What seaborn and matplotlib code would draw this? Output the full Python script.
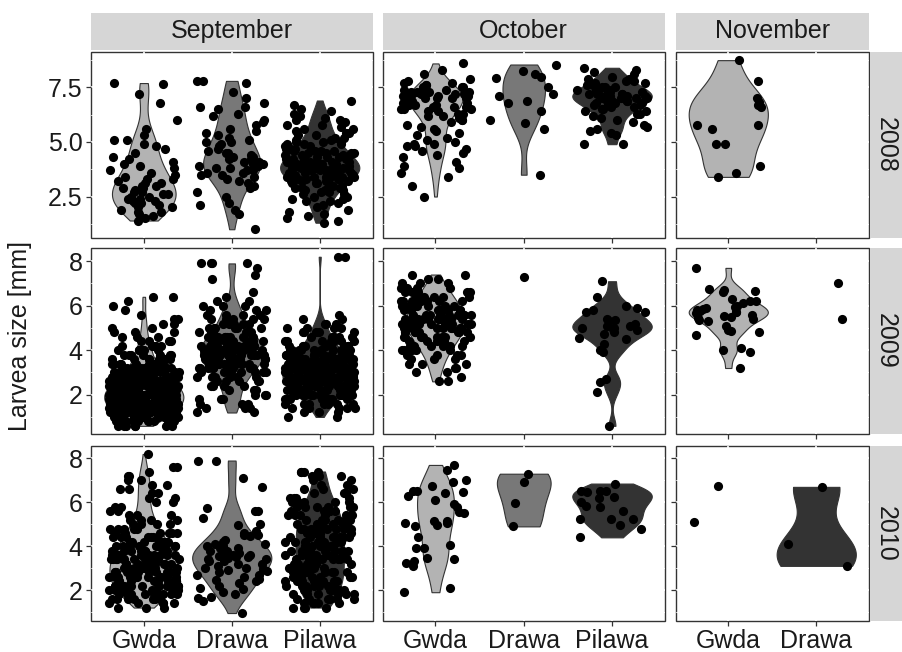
import numpy as np
import pandas as pd
import matplotlib
matplotlib.use("Agg")
import matplotlib.pyplot as plt
from matplotlib.patches import Rectangle
from matplotlib.ticker import MultipleLocator
import seaborn as sns


# larvae sizes [mm]
# 2008
sep08_gwda = [7.7, 7.65, 7.2, 6.8, 6.0, 5.6, 5.3, 5.1, 5.1, 4.9, 4.8, 4.7, 4.5, 4.3, 4.2, 4.1, 4.0, 3.9,
              3.8, 3.7, 3.6, 3.5, 3.4, 3.3, 3.3, 3.2, 3.1, 3.1, 3.0, 3.0, 2.9, 2.9, 2.8, 2.7, 2.7, 2.6,
              2.6, 2.5, 2.5, 2.4, 2.4, 2.3, 2.3, 2.2, 2.2, 2.1, 2.0, 2.0, 1.9, 1.8, 1.8, 1.7, 1.6, 1.5, 1.4]
sep08_drawa = [7.8, 7.8, 7.7, 7.3, 7.0, 6.8, 6.6, 6.6, 6.5, 6.3, 6.2, 6.0, 5.9, 5.8, 5.6, 5.5, 5.4, 5.3,
               5.2, 5.1, 5.0, 5.0, 4.9, 4.8, 4.7, 4.6, 4.5, 4.5, 4.4, 4.3, 4.3, 4.2, 4.2, 4.1, 4.1, 4.0,
               4.0, 3.9, 3.9, 3.8, 3.8, 3.7, 3.7, 3.6, 3.6, 3.5, 3.5, 3.4, 3.3, 3.2, 3.1, 3.0, 2.9, 2.7,
               2.5, 2.2, 2.1, 1.9, 1.7, 1.0]
sep08_pilawa = [6.9, 6.7, 6.5, 6.4, 6.3, 6.2, 6.1, 6.0, 6.0, 5.9, 5.8, 5.8, 5.7, 5.6, 5.6, 5.5, 5.4, 5.4,
                5.3, 5.3, 5.2, 5.2, 5.1, 5.1, 5.0, 5.0, 5.0, 4.9, 4.9, 4.9, 4.8, 4.8, 4.8, 4.7, 4.7, 4.7,
                4.6, 4.6, 4.6, 4.6, 4.5, 4.5, 4.5, 4.5, 4.4, 4.4, 4.4, 4.4, 4.3, 4.3, 4.3, 4.3, 4.2, 4.2,
                4.2, 4.2, 4.2, 4.1, 4.1, 4.1, 4.1, 4.1, 4.0, 4.0, 4.0, 4.0, 4.0, 4.0, 3.9, 3.9, 3.9, 3.9,
                3.9, 3.9, 3.8, 3.8, 3.8, 3.8, 3.8, 3.8, 3.7, 3.7, 3.7, 3.7, 3.7, 3.7, 3.6, 3.6, 3.6, 3.6,
                3.6, 3.6, 3.5, 3.5, 3.5, 3.5, 3.5, 3.4, 3.4, 3.4, 3.4, 3.4, 3.3, 3.3, 3.3, 3.3, 3.2, 3.2,
                3.2, 3.2, 3.1, 3.1, 3.1, 3.0, 3.0, 3.0, 2.9, 2.9, 2.9, 2.8, 2.8, 2.8, 2.7, 2.7, 2.6, 2.6,
                2.5, 2.5, 2.4, 2.4, 2.3, 2.3, 2.2, 2.1, 2.0, 1.9, 1.8, 1.7, 1.6, 1.5, 1.4, 1.3]
oct08_gwda = [8.6, 8.3, 8.1, 7.9, 7.8, 7.7, 7.7, 7.6, 7.6, 7.5, 7.5, 7.5, 7.4, 7.4, 7.4, 7.3, 7.3, 7.3,
              7.3, 7.2, 7.2, 7.2, 7.2, 7.1, 7.1, 7.1, 7.1, 7.0, 7.0, 7.0, 7.0, 6.9, 6.9, 6.9, 6.9, 6.8,
              6.8, 6.8, 6.8, 6.7, 6.7, 6.7, 6.6, 6.6, 6.6, 6.5, 6.5, 6.5, 6.4, 6.4, 6.3, 6.3, 6.2, 6.2,
              6.1, 6.0, 6.0, 5.9, 5.8, 5.7, 5.6, 5.5, 5.4, 5.3, 5.2, 5.1, 5.0, 4.9, 4.9, 4.8, 4.8, 4.7,
              4.6, 4.5, 4.4, 4.3, 4.1, 3.9, 3.8, 3.6, 3.4, 3.0, 2.5]
oct08_drawa = [8.55, 8.26, 8.1, 8.0, 7.95, 7.5, 7.2, 7.1, 6.9, 6.8, 6.42, 6.0, 5.85, 5.6, 3.5]
oct08_pilawa = [8.4, 8.3, 8.2, 8.1, 8.0, 7.9, 7.9, 7.8, 7.8, 7.7, 7.7, 7.6, 7.6, 7.5, 7.5, 7.5, 7.4, 7.4,
                7.4, 7.3, 7.3, 7.3, 7.3, 7.2, 7.2, 7.2, 7.2, 7.1, 7.1, 7.1, 7.1, 7.0, 7.0, 7.0, 7.0, 6.9,
                6.9, 6.9, 6.9, 6.8, 6.8, 6.8, 6.7, 6.7, 6.7, 6.6, 6.6, 6.5, 6.5, 6.4, 6.4, 6.3, 6.3, 6.2,
                6.1, 6.0, 5.9, 5.8, 5.7, 5.6, 5.5, 5.4, 5.3, 4.9, 4.9]
nov08_gwda = [8.75, 7.8, 7.0, 6.85, 6.7, 6.6, 5.8, 5.8, 5.6, 4.9, 4.9, 3.9, 3.6, 3.4]

# 2009 (dense groups as size / number of larvae)
sep09_gwda_mm = [0.6, 0.8, 1.0, 1.2, 1.4, 1.6, 1.8, 2.0, 2.2, 2.4, 2.6, 2.8, 3.0, 3.2, 3.4, 3.6, 3.8,
                 4.0, 4.2, 4.4, 4.6, 4.8, 5.0, 5.2, 5.4, 5.6, 5.8, 6.0, 6.2, 6.4]
sep09_gwda_n = [7, 12, 18, 24, 28, 30, 32, 32, 30, 27, 24, 20, 16, 13, 10, 8, 7, 6, 5, 4, 3, 3, 2, 2,
                2, 1, 1, 1, 1, 2]
sep09_drawa_mm = [1.2, 1.4, 1.6, 1.8, 2.0, 2.2, 2.4, 2.6, 2.8, 3.0, 3.2, 3.4, 3.6, 3.8, 4.0, 4.2, 4.4,
                  4.6, 4.8, 5.0, 5.2, 5.4, 5.6, 5.8, 6.0, 6.2, 6.4, 6.6, 7.2, 7.4, 7.7, 7.9]
sep09_drawa_n = [2, 3, 3, 3, 3, 3, 4, 5, 6, 7, 9, 11, 12, 12, 12, 12, 11, 9, 7, 6, 5, 5, 4, 3, 3, 2,
                 1, 1, 1, 1, 1, 4]
sep09_pilawa_mm = [1.0, 1.2, 1.4, 1.6, 1.8, 2.0, 2.2, 2.4, 2.6, 2.8, 3.0, 3.2, 3.4, 3.6, 3.8, 4.0, 4.2,
                   4.4, 4.6, 4.8, 5.0, 5.2, 5.4, 5.6, 8.2]
sep09_pilawa_n = [2, 3, 5, 7, 9, 12, 15, 18, 20, 20, 20, 19, 17, 15, 13, 11, 9, 7, 6, 5, 4, 3, 2, 1, 2]
oct09_gwda_mm = [2.6, 2.8, 3.0, 3.2, 3.4, 3.6, 3.8, 4.0, 4.2, 4.4, 4.6, 4.8, 5.0, 5.2, 5.4, 5.6, 5.8,
                 6.0, 6.2, 6.4, 6.6, 6.8, 7.0, 7.2, 7.4]
oct09_gwda_n = [2, 1, 2, 2, 3, 3, 4, 5, 6, 7, 8, 9, 10, 10, 10, 10, 9, 8, 7, 6, 5, 4, 3, 2, 2]
oct09_drawa = [7.3]
oct09_pilawa = [7.1, 6.4, 6.0, 5.9, 5.8, 5.7, 5.7, 5.4, 5.35, 5.3, 5.2, 5.1, 5.1, 5.0, 5.0, 4.95, 4.9,
                4.8, 4.75, 4.55, 4.5, 4.3, 4.0, 3.9, 2.7, 2.55, 2.1, 0.6]
nov09_gwda = [7.7, 6.75, 6.7, 6.65, 6.6, 6.3, 6.2, 6.2, 6.1, 6.0, 5.95, 5.9, 5.85, 5.8, 5.75, 5.7, 5.7,
              5.65, 5.6, 5.55, 5.5, 5.45, 5.4, 5.35, 5.3, 5.1, 4.9, 4.85, 4.8, 4.7, 4.1, 4.0, 3.9, 3.2]
nov09_drawa = [7.0, 5.4]

# 2010
sep10_gwda_mm = [1.2, 1.4, 1.6, 1.8, 2.0, 2.2, 2.4, 2.6, 2.8, 3.0, 3.2, 3.4, 3.6, 3.8, 4.0, 4.2, 4.4,
                 4.6, 4.8, 5.0, 5.2, 5.4, 5.6, 5.8, 6.0, 6.2, 6.4, 6.6, 6.8, 7.0, 7.2, 7.4, 7.6, 8.2]
sep10_gwda_n = [3, 5, 7, 9, 10, 11, 11, 12, 12, 12, 12, 11, 11, 10, 9, 8, 7, 6, 5, 4, 4, 3, 2, 2, 2,
                2, 2, 2, 2, 2, 2, 1, 2, 1]
sep10_drawa = [7.9, 7.9, 7.1, 6.7, 5.75, 5.6, 5.6, 5.3, 5.0, 4.95, 4.7, 4.6, 4.5, 4.5, 4.45, 4.3, 4.2,
               4.1, 4.1, 4.0, 4.0, 3.9, 3.9, 3.8, 3.8, 3.7, 3.7, 3.6, 3.6, 3.55, 3.5, 3.5, 3.45, 3.4,
               3.4, 3.3, 3.3, 3.2, 3.2, 3.1, 3.0, 3.0, 2.95, 2.9, 2.85, 2.8, 2.7, 2.7, 2.6, 2.5, 2.45,
               2.4, 2.3, 2.2, 2.1, 2.05, 1.9, 1.8, 1.7, 1.65, 1.5, 0.95]
sep10_pilawa_mm = [1.2, 1.4, 1.6, 1.8, 2.0, 2.2, 2.4, 2.6, 2.8, 3.0, 3.2, 3.4, 3.6, 3.8, 4.0, 4.2, 4.4,
                   4.6, 4.8, 5.0, 5.2, 5.4, 5.6, 5.8, 6.0, 6.2, 6.4, 6.6, 6.8, 7.0, 7.2, 7.4]
sep10_pilawa_n = [4, 5, 6, 6, 7, 7, 8, 8, 8, 8, 8, 8, 8, 8, 8, 8, 8, 8, 8, 8, 7, 7, 7, 6, 5, 4, 3, 3,
                  2, 2, 3, 4]
oct10_gwda = [7.7, 7.45, 7.0, 6.9, 6.75, 6.5, 6.5, 6.45, 6.4, 6.3, 6.1, 5.9, 5.8, 5.55, 5.5, 5.15, 5.15,
              5.05, 5.05, 4.95, 4.9, 4.4, 4.05, 3.9, 3.9, 3.45, 3.4, 3.3, 3.25, 3.1, 2.1, 1.9]
oct10_drawa = [7.3, 6.9, 5.95, 4.9]
oct10_pilawa = [6.85, 6.5, 6.5, 6.5, 6.45, 6.25, 6.2, 6.0, 5.85, 5.8, 5.6, 5.25, 5.25, 5.25, 4.95, 4.8, 4.4]
nov10_gwda = [6.75, 5.1]
nov10_drawa = [6.7, 4.1, 3.1]

years = [2008, 2009, 2010]
months = ["September", "October", "November"]
rivers = {"September": ["Gwda", "Drawa", "Pilawa"],
          "October": ["Gwda", "Drawa", "Pilawa"],
          "November": ["Gwda", "Drawa"]}


def expand(mm, n):
    return list(np.repeat(mm, n))


panels = {
    (2008, "September"): {"Gwda": sep08_gwda, "Drawa": sep08_drawa, "Pilawa": sep08_pilawa},
    (2008, "October"): {"Gwda": oct08_gwda, "Drawa": oct08_drawa, "Pilawa": oct08_pilawa},
    (2008, "November"): {"Gwda": nov08_gwda},
    (2009, "September"): {"Gwda": expand(sep09_gwda_mm, sep09_gwda_n),
                          "Drawa": expand(sep09_drawa_mm, sep09_drawa_n),
                          "Pilawa": expand(sep09_pilawa_mm, sep09_pilawa_n)},
    (2009, "October"): {"Gwda": expand(oct09_gwda_mm, oct09_gwda_n), "Drawa": oct09_drawa,
                        "Pilawa": oct09_pilawa},
    (2009, "November"): {"Gwda": nov09_gwda, "Drawa": nov09_drawa},
    (2010, "September"): {"Gwda": expand(sep10_gwda_mm, sep10_gwda_n), "Drawa": sep10_drawa,
                          "Pilawa": expand(sep10_pilawa_mm, sep10_pilawa_n)},
    (2010, "October"): {"Gwda": oct10_gwda, "Drawa": oct10_drawa, "Pilawa": oct10_pilawa},
    (2010, "November"): {"Gwda": nov10_gwda, "Drawa": nov10_drawa},
}

recs = []
for (year, month), groups in panels.items():
    for river, vals in groups.items():
        for v in vals:
            recs.append((year, month, river, float(v)))
df = pd.DataFrame(recs, columns=["year", "month", "river", "size"])

fills = {"Gwda": "#B3B3B3", "Drawa": "#787878", "Pilawa": "#333333"}
special_fill = {(2010, "November", "Drawa"): "#333333"}
border = "#333333"


def nrd0(kde):
    # R's bw.nrd0, what ggplot's geom_violin uses
    x = np.asarray(kde.dataset).ravel()
    sd = x.std(ddof=1)
    q75, q25 = np.percentile(x, [75, 25])
    lo = min(sd, (q75 - q25) / 1.34)
    if lo <= 0:
        lo = sd
    return 0.9 * lo * len(x) ** -0.2 / sd


sns.set_style("white")
plt.rcParams["font.family"] = ["Liberation Sans", "DejaVu Sans"]

W, H = 902, 652
fig = plt.figure(figsize=(W / 100, H / 100), dpi=100)

col_px = {"September": (91, 372.5), "October": (382.5, 665), "November": (675.5, 869)}
row_px = {2008: (51.7, 237.7), 2009: (248.3, 434.3), 2010: (446, 621)}


def px_axes(x0, x1, y0, y1):
    return fig.add_axes([x0 / W, 1 - y1 / H, (x1 - x0) / W, (y1 - y0) / H])


np.random.seed(7)
for year in years:
    ydat = df[df.year == year]["size"]
    pad = 0.05 * (ydat.max() - ydat.min())
    ylim = (ydat.min() - pad, ydat.max() + pad)
    major, minor = (2.5, 1.25) if year == 2008 else (2, 1)
    for month in months:
        cats = rivers[month]
        ax = px_axes(*col_px[month], *row_px[year])
        sub = df[(df.year == year) & (df.month == month)]
        counts = sub.river.value_counts()
        vdat = sub[sub.river.map(counts) >= 3]

        before = len(ax.collections)
        sns.violinplot(data=vdat, x="river", y="size", order=cats, cut=0, inner=None,
                       density_norm="area", bw_method=nrd0, width=0.9, linewidth=0.8,
                       linecolor=border, saturation=1, color="gray", ax=ax)
        drawn = [c for c in cats if c in set(vdat.river)]
        for coll, river in zip(ax.collections[before:], drawn):
            coll.set_facecolor(special_fill.get((year, month, river), fills[river]))
            coll.set_zorder(2)

        sns.stripplot(data=sub, x="river", y="size", order=cats, jitter=0.4, color="black",
                      size=6.6, linewidth=0, ax=ax, zorder=3)

        ax.set_xlim(-0.6, len(cats) - 0.4)
        ax.set_ylim(*ylim)
        ax.set_xlabel("")
        ax.set_ylabel("")
        ax.set_xticks(range(len(cats)))
        ax.set_xticklabels(cats)
        ax.yaxis.set_major_locator(MultipleLocator(major))
        ax.yaxis.set_minor_locator(MultipleLocator(minor))

        for sp in ax.spines.values():
            sp.set_visible(False)
        ax.set_facecolor("white")
        ax.add_patch(Rectangle((0, 0), 1, 1, transform=ax.transAxes, fill=False,
                               edgecolor=border, lw=1.0, clip_on=False, zorder=0.4))
        ax.set_axisbelow(True)
        ax.grid(which="major", color="white", lw=1.2)
        ax.grid(which="minor", axis="y", color="white", lw=0.6)

        ax.tick_params(which="major", direction="out", length=3.5, width=0.9, color=border,
                       labelsize=18, labelcolor="#1A1A1A", pad=2.5, bottom=True, left=True,
                       labelbottom=(year == 2010), labelleft=(month == "September"))
        ax.tick_params(which="minor", length=0)

# facet strips
strip_col = "#D6D6D6"
for month in months:
    x0, x1 = col_px[month]
    s = px_axes(x0, x1, 12.7, 50)
    s.set_facecolor(strip_col)
    s.set_xticks([])
    s.set_yticks([])
    for sp in s.spines.values():
        sp.set_visible(False)
    s.text(0.5, 0.5, month, ha="center", va="center", fontsize=18, color="#1A1A1A",
           transform=s.transAxes)

for year in years:
    y0, y1 = row_px[year]
    s = px_axes(870, 902, y0, y1)
    s.set_facecolor(strip_col)
    s.set_xticks([])
    s.set_yticks([])
    for sp in s.spines.values():
        sp.set_visible(False)
    s.text(0.5, 0.5, str(year), ha="center", va="center", fontsize=18, color="#1A1A1A",
           rotation=-90, transform=s.transAxes)

fig.text(20 / W, 1 - 336 / H, "Larvea size [mm]", rotation=90, ha="center", va="center",
         fontsize=18, color="#1A1A1A")

fig.savefig("out.png", dpi=100)
